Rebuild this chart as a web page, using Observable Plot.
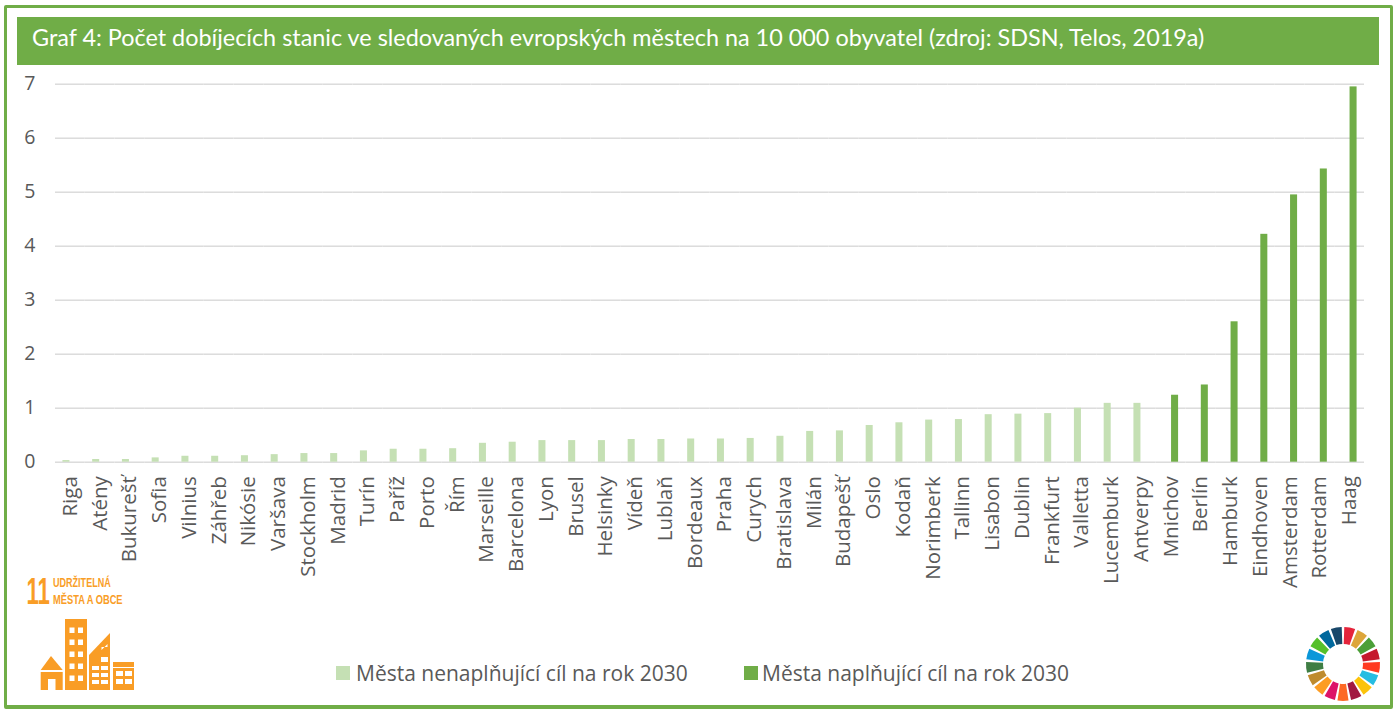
<!DOCTYPE html>
<html lang="cs">
<head>
<meta charset="utf-8">
<script src="https://cdn.jsdelivr.net/npm/d3@7"></script>
<script src="https://cdn.jsdelivr.net/npm/@observablehq/plot@0.6"></script>
<style>
html,body{margin:0;padding:0;background:#fff;}
#page{position:relative;width:1397px;height:709px;overflow:hidden;background:#fff;}
#frame{position:absolute;left:4px;top:5px;width:1383px;height:697px;border:3.5px solid #70AD47;border-bottom-width:4px;border-radius:2px;box-sizing:content-box;}
#title{position:absolute;left:17px;top:17px;width:1362px;height:48px;background:#70AD47;color:#fff;font:23.4px/41px Lato,sans-serif;padding-left:15px;box-sizing:border-box;white-space:nowrap;}
#chart{position:absolute;left:0;top:0;}
.lg{position:absolute;top:660px;font:21px/27px "Open Sans",sans-serif;color:#595959;white-space:nowrap;}
.sw{position:absolute;top:666px;width:14px;height:14px;}
#logo,#wheel{position:absolute;left:0;top:0;}
</style>
</head>
<body>
<div id="page">
  <div id="frame"></div>
  <div id="title">Graf 4: Počet dobíjecích stanic ve sledovaných evropských městech na 10 000 obyvatel (zdroj: SDSN, Telos, 2019a)</div>
  <div id="chart"></div>
  <div class="sw" style="left:336px;background:#C5E0B4"></div>
  <div class="lg" style="left:356px" id="l1">Města nenaplňující cíl na rok 2030</div>
  <div class="sw" style="left:744px;background:#70AD47"></div>
  <div class="lg" style="left:762px" id="l2">Města naplňující cíl na rok 2030</div>
  <svg id="logo" width="200" height="709" xmlns="http://www.w3.org/2000/svg">
    <g fill="#F99D26" font-family="'Liberation Sans',sans-serif" font-weight="700">
      <text transform="translate(26.5,604) scale(0.6,1)" font-size="37">11</text>
      <text transform="translate(53,587) scale(0.67,1)" font-size="13.5">UDRŽITELNÁ</text>
      <text transform="translate(53,604) scale(0.69,1)" font-size="13.5">MĚSTA A OBCE</text>
    </g>
    <g id="bld"></g>
  </svg>
  <svg id="wheel" width="1397" height="709" xmlns="http://www.w3.org/2000/svg"></svg>
</div>
<script>
const cities = ["Riga","Atény","Bukurešť","Sofia","Vilnius","Záhřeb","Nikósie","Varšava","Stockholm","Madrid","Turín","Paříž","Porto","Řím","Marseille","Barcelona","Lyon","Brusel","Helsinky","Vídeň","Lublaň","Bordeaux","Praha","Curych","Bratislava","Milán","Budapešť","Oslo","Kodaň","Norimberk","Tallinn","Lisabon","Dublin","Frankfurt","Valletta","Lucemburk","Antverpy","Mnichov","Berlín","Hamburk","Eindhoven","Amsterdam","Rotterdam","Haag"];
const values = [0.03,0.05,0.05,0.08,0.11,0.11,0.12,0.14,0.16,0.16,0.21,0.24,0.24,0.25,0.35,0.37,0.40,0.40,0.40,0.42,0.42,0.43,0.43,0.44,0.48,0.57,0.58,0.68,0.73,0.78,0.79,0.88,0.89,0.90,1.00,1.09,1.09,1.24,1.43,2.60,4.22,4.95,5.43,6.95];
const meetingTarget = ["Mnichov","Berlín","Hamburk","Eindhoven","Amsterdam","Rotterdam","Haag"];
const seriesNames = ["Města nenaplňující cíl na rok 2030","Města naplňující cíl na rok 2030"];
const seriesColors = ["#C5E0B4","#70AD47"];
const yTicks = [0,1,2,3,4,5,6,7];

const rows = cities.map((city,i)=>({city,value:values[i],series:seriesNames[meetingTarget.includes(city)?1:0]}));
const axisFont = "'Open Sans',sans-serif";

const chart = Plot.plot({
  width:1397,height:709,
  marginLeft:55,marginRight:33,marginTop:83.7,marginBottom:247.3,
  style:{background:"transparent",fontFamily:axisFont},
  fx:{domain:cities,padding:0,round:false,label:null},
  x:{domain:seriesNames,paddingInner:0.11,paddingOuter:0.94,round:false,axis:null,label:null},
  y:{domain:[0,7],label:null},
  color:{domain:seriesNames,range:seriesColors},
  marks:[
    Plot.ruleY(yTicks,{stroke:"#D9D9D9",strokeWidth:1.4}),
    Plot.barY(rows,{fx:"city",x:"series",y:"value",fill:"series"}),
    Plot.axisY({ticks:yTicks,tickSize:0,tickPadding:20,fontSize:19.5,label:null,color:"#595959",tickFormat:d3.format("d")}),
    Plot.axisFx({anchor:"bottom",tickSize:0,tickPadding:14,tickRotate:-90,fontSize:20.5,label:null,color:"#595959"})
  ]
});
document.getElementById("chart").appendChild(chart);

/* building pictogram */
const orange="#F99D26";
const bld=d3.select("#bld");
const rect=(x,y,w,h,f=orange)=>bld.append("rect").attr("x",x).attr("y",y).attr("width",w).attr("height",h).attr("fill",f);
bld.append("path").attr("d","M40.7 670L51 656L62.7 670Z").attr("fill",orange);
bld.append("path").attr("d","M40.7 672H62.7V690H55.5V679H48V690H40.7Z").attr("fill",orange);
rect(65,619,22,71);
[628,640,652,664,676].forEach(y=>[69.5,78].forEach(x=>rect(x,y-0.5,5,5.5,"#fff")));
bld.append("path").attr("d","M89 655L110 633V690H89Z").attr("fill",orange);
bld.append("path").attr("d","M101.5 650L107.5 644V647H101.5Z").attr("fill","#fff");
[[92,666],[101,666],[92,673],[101,673],[92,680],[101,680]].forEach(([x,y])=>rect(x,y,7,4,"#fff"));
rect(101,657,7,5,"#fff");
rect(113,662,21,5);rect(113,668,21,22);
[[116,671],[125,671],[116,679],[125,679]].forEach(([x,y])=>rect(x,y,7,5,"#fff"));

/* SDG wheel */
const wheelColors=["#E5243B","#DDA63A","#4C9F38","#C5192D","#FF3A21","#26BDE2","#FCC30B","#A21942","#FD6925","#DD1367","#FD9D24","#BF8B2E","#3F7E44","#0A97D9","#56C02B","#00689D","#19486A"];
const wg=d3.select("#wheel").append("g").attr("transform","translate(1343,664)");
const da=2*Math.PI/17;
wheelColors.forEach((c,i)=>{
  wg.append("path").attr("fill",c).attr("d",d3.arc()({innerRadius:20,outerRadius:37,startAngle:i*da+0.035,endAngle:(i+1)*da-0.035}));
});
</script>
</body>
</html>
